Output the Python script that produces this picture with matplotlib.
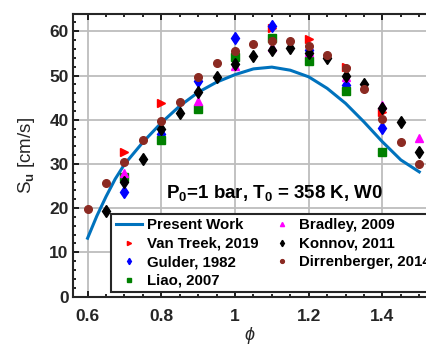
import matplotlib
matplotlib.use("Agg")
import matplotlib.pyplot as plt
from matplotlib.ticker import MultipleLocator

plt.rcParams["font.family"] = ["Liberation Sans", "DejaVu Sans"]
plt.rcParams["font.weight"] = "bold"
plt.rcParams["mathtext.fontset"] = "custom"
plt.rcParams["mathtext.rm"] = "Liberation Sans:bold"
plt.rcParams["mathtext.bf"] = "Liberation Sans:bold"
plt.rcParams["mathtext.it"] = "Liberation Sans:italic"
plt.rcParams["mathtext.default"] = "bf"

# present work (model curve)
phi_model = [0.6, 0.625, 0.65, 0.675, 0.7, 0.75, 0.8, 0.85, 0.9, 0.95, 1.0, 1.05,
             1.1, 1.15, 1.2, 1.25, 1.3, 1.35, 1.4, 1.45, 1.5]
su_model = [13.2, 18.2, 22.6, 26.6, 29.9, 34.9, 39.3, 43.1, 46.2, 48.5, 50.2, 51.5,
            51.9, 51.2, 49.7, 47.1, 43.7, 39.5, 35.0, 30.9, 28.2]

# experiments
phi_vantreek = [0.7, 0.8, 1.1, 1.2, 1.3, 1.4]
su_vantreek = [32.8, 43.7, 60.7, 58.3, 52.0, 41.8]

phi_gulder = [0.7, 0.8, 0.9, 1.0, 1.1, 1.2, 1.3, 1.4]
su_gulder = [23.6, 36.7, 48.8, 58.5, 61.1, 55.8, 47.9, 38.1]

phi_liao = [0.7, 0.8, 0.9, 1.0, 1.1, 1.2, 1.3, 1.4]
su_liao = [27.1, 35.3, 42.5, 54.3, 58.6, 53.3, 46.5, 32.8]

phi_bradley = [0.7, 0.9, 1.0, 1.1, 1.2, 1.3, 1.4, 1.5]
su_bradley = [28.0, 44.2, 52.1, 56.5, 55.4, 49.7, 43.3, 35.8]

phi_konnov = [0.65, 0.7, 0.75, 0.8, 0.85, 0.9, 0.95, 1.0, 1.05, 1.1, 1.15, 1.2,
              1.25, 1.3, 1.35, 1.4, 1.45, 1.5]
su_konnov = [19.3, 26.0, 31.2, 37.9, 41.6, 46.3, 49.6, 52.6, 54.5, 55.8, 56.2, 55.0,
             53.9, 49.9, 48.0, 42.6, 39.5, 32.8]

phi_dirr = [0.6, 0.65, 0.7, 0.75, 0.8, 0.85, 0.9, 0.95, 1.0, 1.05, 1.1, 1.15, 1.2,
            1.25, 1.3, 1.35, 1.4, 1.45, 1.5]
su_dirr = [19.8, 25.7, 30.5, 35.4, 39.8, 44.1, 49.6, 52.8, 55.5, 57.1, 57.9, 57.7,
           56.6, 54.6, 51.6, 46.9, 40.2, 34.9, 30.0]

fig = plt.figure(figsize=(4.26, 3.46), dpi=100)
ax = fig.add_axes([0.171, 0.143, 0.8305, 0.8176])

ax.plot(phi_model, su_model, color="#0072BD", lw=2.2, label="Present Work", zorder=3)
ax.plot(phi_vantreek, su_vantreek, ">", color="red", ms=6, ls="none",
        label="Van Treek, 2019", zorder=4)
ax.plot(phi_gulder, su_gulder, "d", color="blue", ms=6.5, ls="none",
        label="Gulder, 1982", zorder=4)
ax.plot(phi_liao, su_liao, "s", color="green", ms=5.5, ls="none",
        label="Liao, 2007", zorder=4)
ax.plot(phi_bradley, su_bradley, "^", color="magenta", ms=6, ls="none",
        label="Bradley, 2009", zorder=4)
ax.plot(phi_konnov, su_konnov, "d", color="black", ms=6.5, ls="none",
        label="Konnov, 2011", zorder=4)
ax.plot(phi_dirr, su_dirr, "o", color="#8b2a22", ms=5.5, ls="none",
        label="Dirrenberger, 2014", zorder=4)

ax.set_xlim(0.56, 1.52)
ax.set_ylim(0, 64)
ax.xaxis.set_minor_locator(MultipleLocator(0.05))
ax.yaxis.set_major_locator(MultipleLocator(10))
ax.yaxis.set_minor_locator(MultipleLocator(2))
ax.set_xticks([0.6, 0.8, 1.0, 1.2, 1.4])
ax.set_xticklabels(["0.6", "0.8", "1", "1.2", "1.4"])
ax.tick_params(which="both", direction="in", top=True, right=False,
               labelsize=12.5, labelcolor="#262626", width=1.2)
ax.tick_params(axis="x", pad=9)
ax.tick_params(axis="y", pad=3)
ax.tick_params(which="major", length=4)
ax.tick_params(which="minor", length=2.5)
ax.grid(True, which="major", color="#bdbdbd", lw=1.3)
ax.set_axisbelow(True)
for side in ["left", "bottom", "top"]:
    ax.spines[side].set_linewidth(1.5)
    ax.spines[side].set_color("#262626")
ax.spines["right"].set_visible(False)

ax.set_ylabel("S$_u$ [cm/s]", fontsize=13.5, color="#262626", labelpad=9)
ax.set_xlabel("ϕ", fontsize=13, fontstyle="italic", fontweight="normal",
              color="#262626", labelpad=2)

ax.text(0.571, 0.366, "P$_0$=1 bar, T$_0$ = 358 K, W0", transform=ax.transAxes,
        ha="center", va="center", fontsize=13.5, color="black", zorder=6)

leg = ax.legend(loc="lower left", bbox_to_anchor=(0.109, 0.015), ncol=2,
                fontsize=10.8, frameon=True, fancybox=False, markerscale=0.5,
                handlelength=1.75, handletextpad=0.3, columnspacing=0.7,
                labelspacing=0.3, borderpad=0.3, borderaxespad=0)
leg.get_frame().set_edgecolor("#262626")
leg.get_frame().set_linewidth(1.5)
leg.get_frame().set_alpha(1)
leg.set_zorder(7)

fig.savefig("out.png", dpi=100)
